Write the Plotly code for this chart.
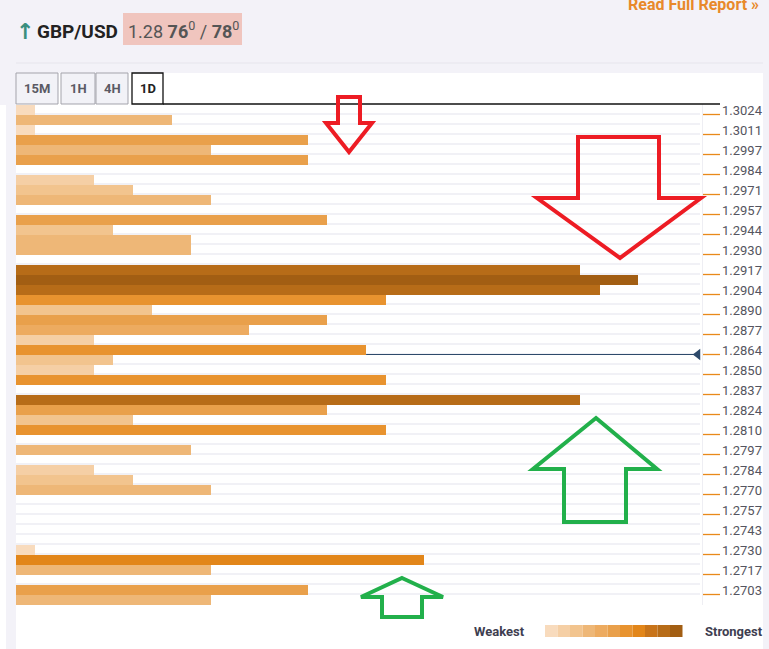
import plotly.graph_objects as go

W, H = 769, 649

# ---------------- data ----------------
price_labels = ["1.3024", "1.3011", "1.2997", "1.2984", "1.2971", "1.2957", "1.2944",
                "1.2930", "1.2917", "1.2904", "1.2890", "1.2877", "1.2864", "1.2850",
                "1.2837", "1.2824", "1.2810", "1.2797", "1.2784", "1.2770", "1.2757",
                "1.2743", "1.2730", "1.2717", "1.2703"]
# strength of each confluence row (50 rows, top to bottom)
strength = [1, 8, 1, 15, 10, 15, 0, 4, 6, 10,
            0, 16, 5, 9, 9, 0, 29, 32, 30, 19,
            7, 16, 12, 4, 18, 5, 4, 19, 0, 29,
            16, 6, 19, 0, 9, 0, 4, 6, 10, 0,
            0, 0, 0, 0, 1, 21, 10, 0, 15, 10]
current_idx = 24       # row holding the current price
current_row = 24.45    # position of current price line (row units)
tabs = ["15M", "1H", "4H", "1D"]

palette = ["#F8DBBD", "#F5CFA5", "#F2C48E", "#EEB777", "#EDAB60", "#E9A04B",
           "#E8932F", "#E2861A", "#C8741A", "#B76C18", "#A25E13"]


def level(v):
    for i, t in enumerate([1, 4, 7, 10, 13, 17, 20, 24, 28, 31]):
        if v <= t:
            return i
    return 10


rows = list(range(len(strength)))
colors = [palette[level(v)] for v in strength]

X = lambda px: px / W
Y = lambda py: 1 - py / H

fig = go.Figure()

fig.add_trace(go.Bar(x=strength, y=rows, orientation="h", width=1,
                     marker=dict(color=colors, line=dict(width=0)), hoverinfo="skip"))

# current price line (starts where the bar of its row ends)
fig.add_trace(go.Scatter(x=[strength[current_idx], 35.12], y=[current_row, current_row], mode="lines",
                         line=dict(color="#2E4A6B", width=1.2), hoverinfo="skip"))
fig.add_trace(go.Scatter(x=[35.05], y=[current_row], mode="markers",
                         marker=dict(symbol="triangle-left", size=10, color="#2E4A6B"),
                         cliponaxis=False, hoverinfo="skip"))

shapes = []
# backgrounds
shapes.append(dict(type="rect", xref="paper", yref="paper", x0=X(16), x1=X(763), y0=Y(649), y1=Y(73),
                   fillcolor="white", line=dict(width=0), layer="below"))
shapes.append(dict(type="rect", xref="paper", yref="paper", x0=0, x1=X(6), y0=Y(649), y1=Y(105),
                   fillcolor="white", line=dict(width=0), layer="below"))
shapes.append(dict(type="line", xref="paper", yref="paper", x0=X(16), x1=X(763), y0=Y(63), y1=Y(63),
                   line=dict(color="#E6E5EC", width=1), layer="below"))
# vertical divider right of bars
shapes.append(dict(type="line", xref="paper", yref="paper", x0=X(702.5), x1=X(702.5), y0=Y(605), y1=Y(104),
                   line=dict(color="#EEEEF3", width=1), layer="below"))
# tabs
tab_boxes = [(16, 58), (61, 95), (96, 128), (132, 163)]
for i, (a, b) in enumerate(tab_boxes):
    active = i == 3
    shapes.append(dict(type="rect", xref="paper", yref="paper", x0=X(a), x1=X(b), y0=Y(104), y1=Y(73),
                       fillcolor="white" if active else "#F2F2F7",
                       line=dict(color="#111111" if active else "#A3A3AB", width=1.3 if active else 1)))
shapes.append(dict(type="line", xref="paper", yref="paper", x0=X(163), x1=X(720), y0=Y(104), y1=Y(104),
                   line=dict(color="#111111", width=1.3)))
# price box
shapes.append(dict(type="rect", xref="paper", yref="paper", x0=X(123), x1=X(242), y0=Y(45), y1=Y(13),
                   fillcolor="#F0C5BE", line=dict(width=0)))
# orange ticks by labels
for k in range(len(price_labels)):
    r = 2 * k + 0.45
    shapes.append(dict(type="line", xref="paper", yref="y", x0=X(703), x1=X(720), y0=r, y1=r,
                       line=dict(color="#E8891A", width=1.3)))
# legend swatches
for i, c in enumerate(palette):
    x0 = 545 + i * 12.5
    shapes.append(dict(type="rect", xref="paper", yref="paper", x0=X(x0), x1=X(x0 + 12.5),
                       y0=Y(637), y1=Y(625), fillcolor=c, line=dict(width=0)))


def arrow(pts, color):
    d = "M " + " L ".join(f"{X(a):.5f},{Y(b):.5f}" for a, b in pts) + " Z"
    return dict(type="path", xref="paper", yref="paper", path=d,
                line=dict(color=color, width=4), fillcolor="rgba(0,0,0,0)")


RED, GREEN = "#ED1C24", "#22B04B"
shapes.append(arrow([(338, 97), (360, 97), (360, 123), (372, 123), (349, 152), (326, 123), (338, 123)], RED))
shapes.append(arrow([(578, 137), (659, 137), (659, 198), (701, 198), (620, 258), (537, 198), (578, 198)], RED))
shapes.append(arrow([(596, 418), (657, 469), (626, 469), (626, 522), (564, 522), (564, 469), (533, 469)], GREEN))
shapes.append(arrow([(402, 578), (443, 597), (422, 597), (422, 617), (382, 617), (382, 597), (361, 597)], GREEN))

ann = []
for k, lab in enumerate(price_labels):
    ann.append(dict(text=lab, xref="paper", yref="y", x=X(720), y=2 * k + 0.05, xanchor="left",
                    yanchor="middle", showarrow=False, font=dict(size=13, color="#555560")))
ann.append(dict(text="<b>↑</b>", xref="paper", yref="paper", x=X(14), y=Y(31), xanchor="left", yanchor="middle",
                showarrow=False, font=dict(size=22, color="#3A8F7E", family="DejaVu Sans")))
ann.append(dict(text="<b>GBP/USD</b>", xref="paper", yref="paper", x=X(35), y=Y(31), xanchor="left",
                yanchor="middle", showarrow=False, font=dict(size=19, color="#222222")))
ann.append(dict(text="1.28 <b>76</b><sup>0</sup> / <b>78</b><sup>0</sup>", xref="paper", yref="paper",
                x=X(126), y=Y(30), xanchor="left", yanchor="middle", showarrow=False,
                font=dict(size=18, color="#555555")))
ann.append(dict(text="<b>Read Full Report »</b>", xref="paper", yref="paper", x=X(761), y=Y(4),
                xanchor="right", yanchor="middle", showarrow=False,
                font=dict(size=16, color="#E8892A")))
for (a, b), t in zip(tab_boxes, tabs):
    ann.append(dict(text=f"<b>{t}</b>", xref="paper", yref="paper", x=X((a + b) / 2), y=Y(88.5),
                    xanchor="center", yanchor="middle", showarrow=False,
                    font=dict(size=13, color="#222222" if t == "1D" else "#5A5A64")))
ann.append(dict(text="<b>Weakest</b>", xref="paper", yref="paper", x=X(472), y=Y(631), xanchor="left",
                yanchor="middle", showarrow=False, font=dict(size=13, color="#3E3E50")))
ann.append(dict(text="<b>Strongest</b>", xref="paper", yref="paper", x=X(703), y=Y(631), xanchor="left",
                yanchor="middle", showarrow=False, font=dict(size=13, color="#3E3E50")))

fig.update_layout(
    width=W, height=H, autosize=False,
    margin=dict(l=0, r=0, t=0, b=0, pad=0),
    paper_bgcolor="#F3F2F8", plot_bgcolor="rgba(0,0,0,0)",
    showlegend=False, bargap=0,
    font=dict(family="Roboto"),
    shapes=shapes, annotations=ann,
    xaxis=dict(domain=[X(16), X(700)], range=[0, 684 / 19.45], showgrid=False, zeroline=False,
               showticklabels=False, fixedrange=True),
    yaxis=dict(domain=[Y(605), Y(105)], range=[49.5, -0.5], tickvals=[r + 0.42 for r in rows],
               showgrid=True, gridcolor="#F1F1F6", gridwidth=2, zeroline=False,
               showticklabels=False, fixedrange=True),
)

fig.write_html("out.html", config={"displayModeBar": False},
               post_script="document.body.style.margin='0px';document.body.style.overflow='hidden';")
